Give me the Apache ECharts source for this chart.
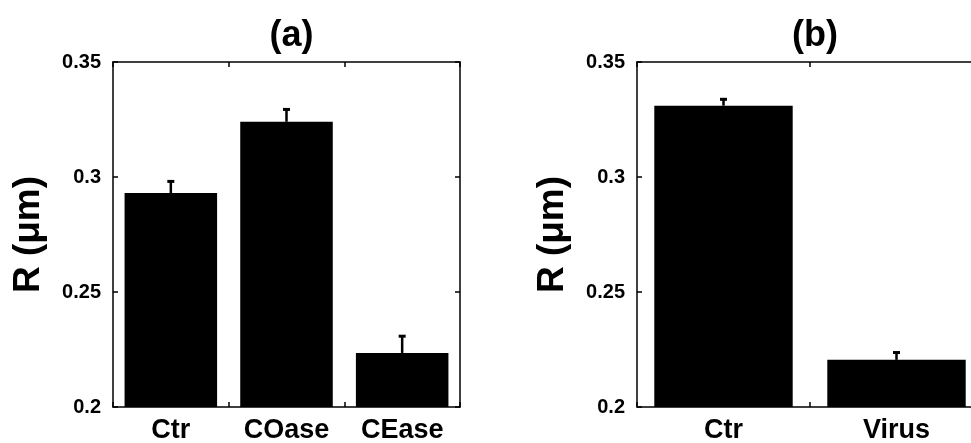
<!DOCTYPE html>
<html>
<head>
<meta charset="utf-8">
<script src="https://cdn.jsdelivr.net/npm/echarts@6/dist/echarts.min.js"></script>
<style>
html,body{margin:0;padding:0;background:#fff;}
#chart{width:971px;height:443px;}
</style>
</head>
<body>
<div id="chart"></div>
<script>
// ---- data ----
const catsA = ['Ctr', 'COase', 'CEase'];
const valsA = [0.293, 0.324, 0.2235];
const errA  = [0.0053, 0.0056, 0.0075];

const catsB = ['Ctr', 'Virus'];
const valsB = [0.331, 0.2205];
const errB  = [0.003, 0.0034];

const yTicks = [0.2, 0.25, 0.3, 0.35];
const titles = ['(a)', '(b)'];
const yName = 'R (\u03bcm)';

// ---- chart ----
const FONT = '"Liberation Sans", Arial, sans-serif';
const chart = echarts.init(document.getElementById('chart'), null, {renderer: 'canvas'});

const grids = [
  {left: 113, top: 62, width: 347, height: 345, outerBoundsMode: 'none', containLabel: false},
  {left: 637, top: 62, width: 346, height: 345, outerBoundsMode: 'none', containLabel: false}
];

function xAxes(cats, gi) {
  const common = {
    type: 'category', data: cats, gridIndex: gi,
    axisLine: {show: true, lineStyle: {color: '#000', width: 1.5}},
    axisTick: {show: true, inside: true, length: 5, lineStyle: {color: '#000', width: 1.5}},
    splitLine: {show: false}
  };
  return [
    Object.assign({}, common, {
      position: 'bottom',
      axisLabel: {show: true, color: '#000', fontFamily: FONT, fontWeight: 'bold', fontSize: 27, margin: 10}
    }),
    Object.assign({}, common, {position: 'top', axisLabel: {show: false}})
  ];
}

function yAxes(gi) {
  const common = {
    type: 'value', gridIndex: gi,
    min: yTicks[0], max: yTicks[yTicks.length - 1], interval: yTicks[1] - yTicks[0],
    axisLine: {show: true, lineStyle: {color: '#000', width: 1.5}},
    axisTick: {show: true, inside: true, length: 5, lineStyle: {color: '#000', width: 1.5}},
    splitLine: {show: false}
  };
  return [
    Object.assign({}, common, {
      position: 'left',
      name: yName, nameLocation: 'middle', nameRotate: 90, nameGap: 66,
      nameTextStyle: {color: '#000', fontFamily: FONT, fontWeight: 'bold', fontSize: 37},
      axisLabel: {show: true, color: '#000', fontFamily: FONT, fontWeight: 'bold', fontSize: 20, margin: 12,
        formatter: v => String(+v.toFixed(2))}
    }),
    Object.assign({}, common, {position: 'right', axisLabel: {show: false}})
  ];
}

function errSeries(vals, errs, xi, yi) {
  return {
    type: 'custom', xAxisIndex: xi, yAxisIndex: yi, z: 5,
    data: vals.map((v, i) => [i, v, v + errs[i]]),
    renderItem: function (params, api) {
      const base = api.coord([api.value(0), api.value(1)]);
      const top = api.coord([api.value(0), api.value(2)]);
      return {
        type: 'group',
        children: [
          {type: 'line', shape: {x1: base[0], y1: base[1], x2: top[0], y2: top[1]},
           style: {stroke: '#000', lineWidth: 2.5}},
          {type: 'rect', shape: {x: top[0] - 3.5, y: top[1] - 1, width: 7, height: 3},
           style: {fill: '#000'}}
        ]
      };
    }
  };
}

const option = {
  animation: false,
  backgroundColor: '#fff',
  title: [
    {text: titles[0], left: grids[0].left + grids[0].width / 2, textAlign: 'center', top: 13,
     textStyle: {color: '#000', fontFamily: FONT, fontWeight: 'bold', fontSize: 36}},
    {text: titles[1], left: grids[1].left + grids[1].width / 2, textAlign: 'center', top: 13,
     textStyle: {color: '#000', fontFamily: FONT, fontWeight: 'bold', fontSize: 36}}
  ],
  grid: grids,
  xAxis: [].concat(xAxes(catsA, 0), xAxes(catsB, 1)),
  yAxis: [].concat(yAxes(0), yAxes(1)),
  series: [
    {type: 'bar', xAxisIndex: 0, yAxisIndex: 0, data: valsA, barCategoryGap: '20%',
     itemStyle: {color: '#000'}, clip: true},
    errSeries(valsA, errA, 0, 0),
    {type: 'bar', xAxisIndex: 2, yAxisIndex: 2, data: valsB, barCategoryGap: '20%',
     itemStyle: {color: '#000'}, clip: true},
    errSeries(valsB, errB, 2, 2)
  ]
};
chart.setOption(option);
</script>
</body>
</html>
